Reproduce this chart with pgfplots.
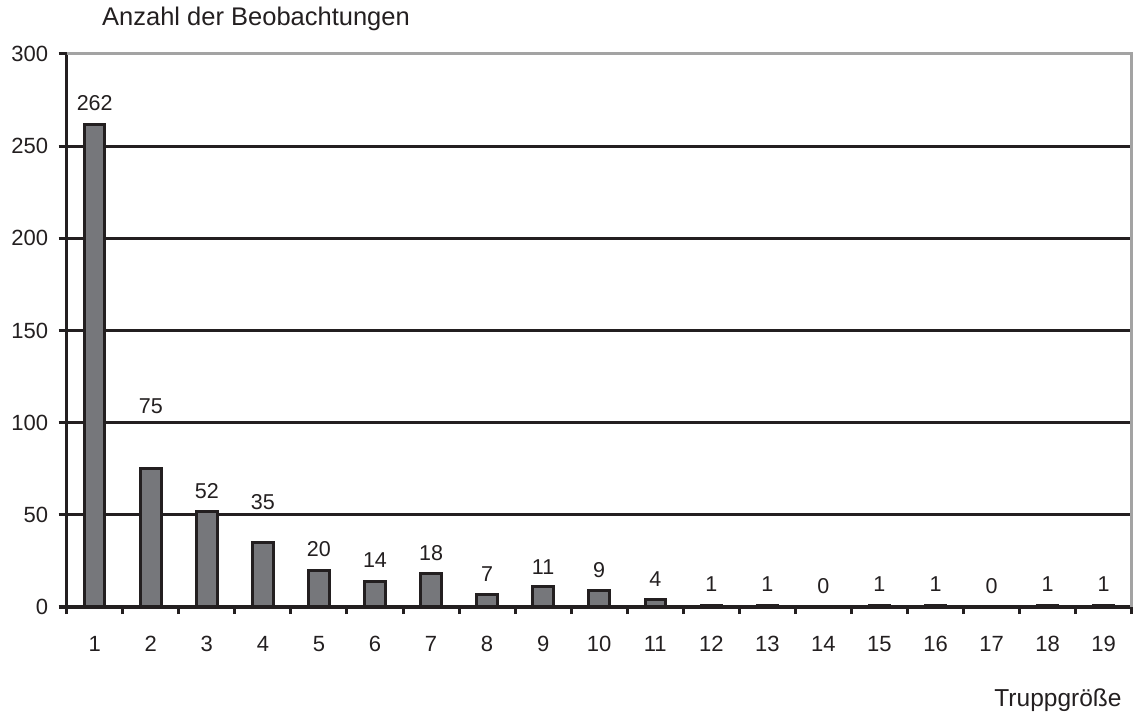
\documentclass[border=0pt]{standalone}
\usepackage{fontspec}
\setmainfont{Liberation Sans}
\usepackage{pgfplots}
\usepackage{pgfplotstable}
\pgfplotsset{compat=1.18}
\definecolor{barfill}{HTML}{76777B}
\definecolor{lineblack}{HTML}{231F20}
\definecolor{bordergray}{HTML}{A3A3A3}
\pgfplotstableread{
x y ly
1 262 273.6
2 75 109.0
3 52 63.1
4 35 57.1
5 20 31.5
6 14 25.5
7 18 29.5
8 7 17.9
9 11 21.9
10 9 20.1
11 4 15.0
12 1 12.3
13 1 12.3
14 0 11.4
15 1 12.3
16 1 12.3
17 0 11.4
18 1 12.3
19 1 12.3
}\data
\begin{document}
\begin{tikzpicture}
\useasboundingbox (0,0) rectangle (1135bp,716bp);
\begin{axis}[
  at={(66.7bp,109bp)}, anchor=south west,
  scale only axis, width=1065bp, height=553bp,
  xmin=0.5, xmax=19.5, ymin=0, ymax=300,
  axis x line*=bottom, axis y line*=left,
  x axis line style={-, draw=lineblack, line width=3bp},
  y axis line style={-, draw=lineblack, line width=3bp},
  xtick={1,...,19},
  minor xtick={0.5,1.5,...,19.5},
  major x tick style={draw=none},
  minor x tick style={draw=lineblack, line width=3bp},
  ytick={0,50,...,300},
  y tick style={draw=lineblack, line width=3bp},
  tick align=outside,
  major tick length=8bp,
  minor tick length=7bp,
  ymajorgrids,
  grid style={draw=lineblack, line width=3bp},
  /pgf/number format/assume math mode=true,
  tick label style={font=\fontsize{22bp}{26bp}\selectfont, text=lineblack},
  xticklabel style={anchor=center, yshift=-29bp},
  yticklabel style={anchor=east, xshift=-7bp},
  clip=false,
]
\addplot[ybar, bar width=20.5bp, fill=barfill, draw=lineblack, line width=3bp] table[x=x, y=y] {\data};
\addplot[draw=none, mark=none, forget plot,
  nodes near coords, point meta=explicit,
  every node near coord/.append style={anchor=center, inner sep=0pt, font=\fontsize{21.5bp}{26bp}\selectfont, text=lineblack}]
  table[x=x, y=ly, meta=y] {\data};
\draw[bordergray, line width=3bp] (rel axis cs:0,1) -- (rel axis cs:1,1) -- (rel axis cs:1,0);
\end{axis}
\node[anchor=base west, inner sep=0pt, text=lineblack, font=\fontsize{25.5bp}{30bp}\selectfont] at (102bp,690bp) {Anzahl der Beobachtungen};
\node[anchor=base east, inner sep=0pt, text=lineblack, font=\fontsize{24.5bp}{30bp}\selectfont] at (1121.7bp,9.3bp) {Truppgröße};
\end{tikzpicture}
\end{document}
